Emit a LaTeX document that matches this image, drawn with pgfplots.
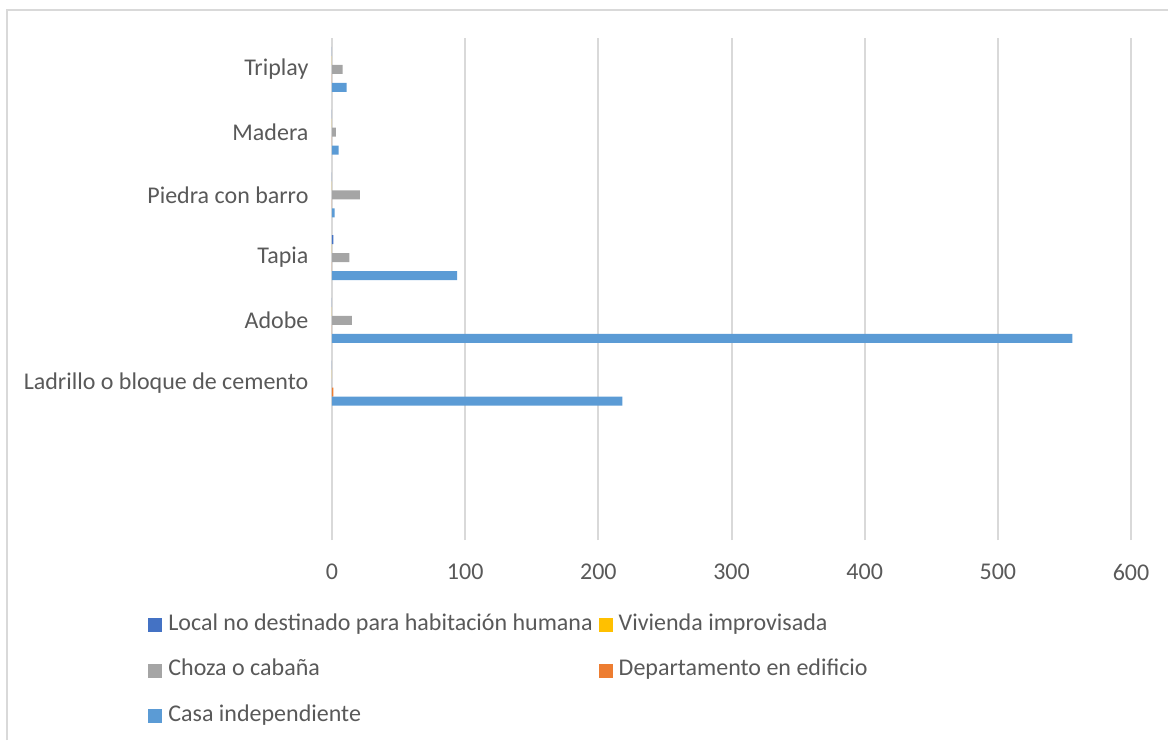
\documentclass[border=0pt]{standalone}
\usepackage{pgfplots}
\pgfplotsset{compat=1.18}
\usepackage{fontspec}
\setmainfont{Carlito}
\definecolor{cLocal}{HTML}{4472C4}
\definecolor{cViv}{HTML}{FFC000}
\definecolor{cChoza}{HTML}{A5A5A5}
\definecolor{cDep}{HTML}{ED7D31}
\definecolor{cCasa}{HTML}{5B9BD5}
\definecolor{txt}{HTML}{595959}
\definecolor{gridc}{HTML}{D9D9D9}
\begin{document}
\begin{tikzpicture}
\useasboundingbox (0,0) rectangle (584pt,370pt);
\draw[gridc, line width=0.8pt] (3.5pt,0) -- (3.5pt,365pt) -- (584pt,365pt);
\begin{axis}[
  at={(166pt,100pt)}, anchor=south west,
  scale only axis, width=399.5pt, height=251pt,
  xbar, bar width=4.5pt,
  xmin=0, xmax=600, xtick={0,100,...,600},
  ymin=-0.5, ymax=7.5,
  ytick={2,3,4,5,6,7},
  yticklabels={Ladrillo o bloque de cemento,Adobe,Tapia,Piedra con barro,Madera,Triplay},
  xmajorgrids=true, ymajorgrids=false,
  major x grid style={draw=gridc, line width=1pt},
  axis line style={draw=none}, tick style={draw=none},
  font=\fontsize{12pt}{14pt}\selectfont,
  ticklabel style={text=txt},
  /pgf/number format/assume math mode=true,
  xticklabel style={yshift=-8.5pt},
  yticklabel style={xshift=-4pt},
  legend columns=2,
  legend cell align=left,
  legend style={at={(-0.2303,-0.1474)}, anchor=north west, draw=none,
    inner sep=0pt, text=txt, row sep=11.75pt,
    nodes={inner xsep=3pt, inner ysep=0pt, text height=8pt, text depth=3pt},
    /tikz/every even column/.append style={column sep=0pt}},
  legend image code/.code={\fill[#1] (0pt,-3.5pt) rectangle (7pt,3.5pt);},
]
\addplot[fill=cLocal, draw=none, bar shift=9pt] coordinates {(0,7) (0,6) (0,5) (1,4) (0,3) (0,2)};
\addplot[fill=cViv, draw=none, bar shift=4.5pt] coordinates {(0,7) (0,6) (0,5) (0,4) (0,3) (0,2)};
\addplot[fill=cChoza, draw=none, bar shift=0pt] coordinates {(8,7) (3,6) (21,5) (13,4) (15,3) (0,2)};
\addplot[fill=cDep, draw=none, bar shift=-4.5pt] coordinates {(0,7) (0,6) (0,5) (0,4) (0,3) (1,2)};
\addplot[fill=cCasa, draw=none, bar shift=-9pt] coordinates {(11,7) (5,6) (2,5) (94,4) (556,3) (218,2)};
\legend{Local no destinado para habitación humana, Vivienda improvisada, Choza o cabaña, Departamento en edificio, Casa independiente}
\end{axis}
\end{tikzpicture}
\end{document}
